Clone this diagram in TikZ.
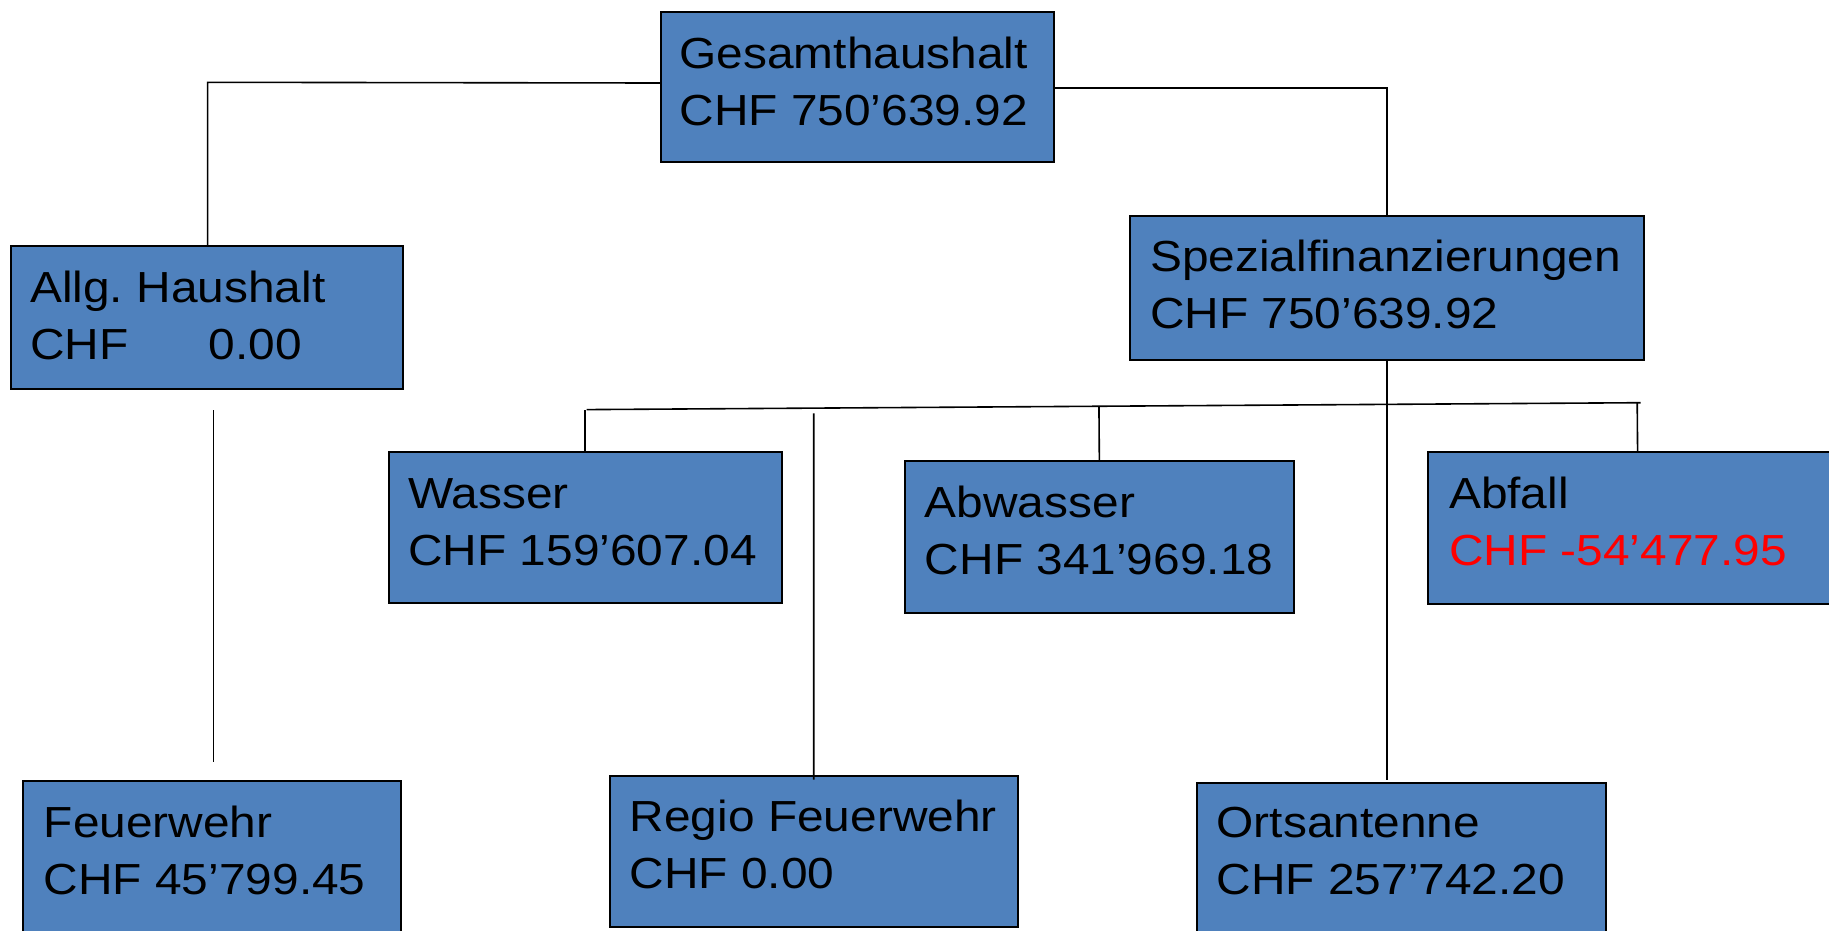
\documentclass[tikz,border=0pt]{standalone}
\usepackage{fontspec}
\setmainfont[FakeStretch=1.1]{Liberation Sans}
\usetikzlibrary{calc}
\definecolor{boxblue}{RGB}{79,129,189}
\newcommand{\twoline}[2]{\vtop{\baselineskip=57pt\hbox{#1}\hbox{#2}}}
\frenchspacing
\begin{document}
\begin{tikzpicture}[x=1pt,y=-1pt,
  box/.style={draw=black, line width=2pt, fill=boxblue, anchor=north west, inner sep=0pt, outer sep=0pt},
  txt/.style={anchor=base west, inner sep=0pt, font=\fontsize{43.5}{57}\selectfont\frenchspacing},
  conn/.style={draw=black, line width=1.6pt}]
\useasboundingbox (0,0) rectangle (1829,930);

% boxes
\node[box, minimum width=392.9pt, minimum height=150.4pt] (g)  at (660.8,12) {};
\node[box, minimum width=392.9pt, minimum height=143pt]   (a)  at (10.5,246) {};
\node[box, minimum width=513.6pt, minimum height=144.3pt] (s)  at (1129.9,215.7) {};
\node[box, minimum width=392.9pt, minimum height=151.5pt] (w)  at (388.6,451.9) {};
\node[box, minimum width=389.3pt, minimum height=151.7pt] (aw) at (904.7,461) {};
\node[box, minimum width=418.4pt, minimum height=151.7pt] (af) at (1428.4,452.3) {};
\node[box, minimum width=377.5pt, minimum height=160pt]   (f)  at (23.1,780.6) {};
\node[box, minimum width=408.3pt, minimum height=151pt]   (r)  at (609.6,775.6) {};
\node[box, minimum width=408.2pt, minimum height=160pt]   (o)  at (1197.4,782.7) {};

% texts
\node[txt] (gt)  at ($(g.north west)+(18.5,56)$)  {\twoline{Gesamthaushalt}{CHF 750’639.92}};
\node[txt] (at)  at ($(a.north west)+(19.5,56.7)$) {\twoline{Allg. Haushalt}{\makebox[178.8pt][l]{CHF}0.00}};
\node[txt] (st)  at ($(s.north west)+(20,56)$)  {\twoline{Spezialfinanzierungen}{CHF 750’639.92}};
\node[txt] (wt)  at ($(w.north west)+(19.5,57)$)  {\twoline{Wasser}{CHF 159’607.04}};
\node[txt] (awt) at ($(aw.north west)+(20,56)$) {\twoline{Abwasser}{CHF 341’969.18}};
\node[txt] (aft) at ($(af.north west)+(20.5,56)$) {\twoline{Abfall}{\textcolor{red}{CHF -54’477.95}}};
\node[txt] (ft)  at ($(f.north west)+(20.5,57)$) {\twoline{Feuerwehr}{CHF 45’799.45}};
\node[txt] (rt)  at ($(r.north west)+(20,56)$) {\twoline{Regio Feuerwehr}{CHF 0.00}};
\node[txt] (ot)  at ($(o.north west)+(19,55)$)  {\twoline{Ortsantenne}{CHF 257’742.20}};

% connectors
\coordinate (c1) at (207.6,82.3);
\draw[conn] ($(g.north west)+(0,71)$) -- (c1) -- (c1 |- a.north);
\coordinate (gr) at ($(g.north east)+(0,75.7)$);
\draw[conn] (gr) -- (s.north |- gr) -- (s.north);
\draw[conn] (s.south) -- ($(s.south |- o.north)+(0,-2.7)$);

\coordinate (hl) at (586.7,409.6);
\coordinate (hr) at (1640.5,402.7);
\draw[conn] (hl) -- (hr);
\draw[conn] (w.north) -- (w.north |- hl);
\draw[conn] (aw.north) -- ($(hl)!(aw.north)!(hr)$);
\draw[conn] (af.north) -- ($(hl)!(af.north)!(hr)$);

\coordinate (rtop) at (813.7,413.3);
\draw[conn] ($(r.north)+(0,4)$) -- (rtop);

\coordinate (f1) at (213.3,410.2);
\coordinate (f2) at (213.3,762.3);
\draw[conn] (f1) -- (f2);
\end{tikzpicture}
\end{document}
